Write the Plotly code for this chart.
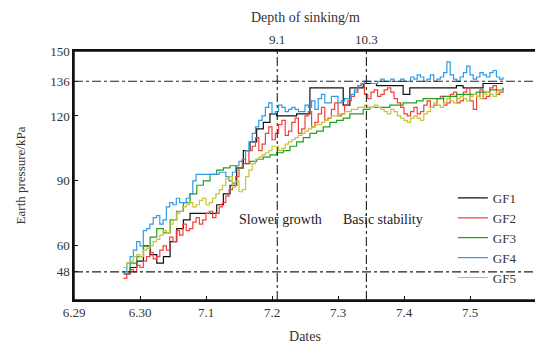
import plotly.graph_objects as go

# ---- data (days counted from 6.29; each series spans 6.29+0.75 d to 6.29+6.5 d) ----
T_START, T_END = 0.75, 6.5

gf1 = [47, 50, 53, 60, 56, 52, 55, 62, 68, 72, 75, 75, 75, 75, 79, 84, 88, 96, 104, 108,
       114, 117, 121, 120, 120, 120, 121, 121, 133, 133, 133, 133, 133, 125, 133, 133, 135, 135, 134, 134,
       134, 134, 130, 133, 133, 133, 133, 133, 133, 133, 134, 133, 133, 133, 135, 135, 135, 135]
gf2 = [45, 47, 49, 48, 51, 50, 53, 55, 57, 54, 55, 58, 60, 58, 64, 62, 67, 65, 70, 67,
       68, 71, 73, 70, 72, 75, 76, 73, 75, 78, 80, 83, 86, 89, 92, 96, 100, 98, 104, 106,
       110, 104, 107, 112, 115, 109, 112, 116, 118, 111, 113, 117, 119, 112, 114, 120, 122, 115, 117, 121,
       124, 118, 119, 123, 126, 120, 121, 125, 127, 129, 131, 134, 135, 130, 128, 131, 132, 129, 130, 132,
       133, 131, 128, 126, 124, 121, 120, 122, 124, 121, 122, 125, 127, 124, 125, 128, 129, 125, 126, 130,
       131, 126, 127, 131, 133, 127, 123, 129, 132, 128, 129, 133, 134, 130, 131, 133]
gf3 = [48, 52, 55, 60, 64, 68, 66, 72, 76, 80, 84, 88, 90, 93, 95, 96, 97, 96, 98, 99,
       100, 101, 102, 103, 104, 106, 108, 110, 112, 113, 115, 117, 118, 119, 121, 121, 123, 124, 124, 124,
       125, 125, 126, 126, 127, 128, 128, 128, 129, 129, 130, 130, 130, 131, 131, 132, 132, 133]
gf4 = [48, 52, 55, 58, 62, 60, 67, 68, 70, 73, 74, 70, 72, 78, 80, 79, 82, 80, 80, 82,
       84, 90, 93, 93, 93, 93, 93, 93, 93, 94, 94, 92, 90, 94, 97, 99, 100, 104, 108, 112,
       115, 118, 120, 124, 126, 121, 122, 125, 124, 122, 123, 124, 123, 122, 122, 125, 124, 127, 123, 128,
       130, 126, 126, 129, 129, 126, 127, 128, 128, 130, 132, 134, 135, 136, 136, 135, 135, 136, 137, 136,
       136, 137, 136, 136, 137, 136, 136, 138, 137, 139, 138, 136, 137, 139, 136, 137, 138, 140, 145, 139,
       137, 136, 138, 140, 143, 139, 137, 138, 140, 139, 138, 140, 141, 138, 137, 138]
gf5 = [50, 52, 53, 55, 56, 55, 58, 59, 60, 62, 63, 65, 67, 66, 70, 72, 75, 76, 78, 79,
       80, 78, 79, 81, 82, 79, 80, 82, 84, 86, 88, 91, 92, 87, 90, 85, 86, 92, 95, 98,
       100, 101, 102, 103, 104, 106, 106, 104, 105, 107, 108, 109, 110, 111, 112, 113, 114, 115, 116, 116,
       117, 118, 119, 120, 120, 121, 121, 122, 122, 123, 123, 124, 124, 125, 124, 124, 125, 124, 123, 122,
       121, 123, 122, 120, 119, 118, 117, 119, 120, 119, 118, 121, 122, 124, 126, 125, 124, 126, 128, 127,
       126, 128, 129, 128, 127, 129, 130, 129, 128, 130, 131, 130, 129, 131, 132, 132]

series_names = ["GF1", "GF2", "GF3", "GF4", "GF5"]
series_values = [gf1, gf2, gf3, gf4, gf5]
colors = ["#111111", "#f0413c", "#22a022", "#2e9be6", "#c8c23a"]

date_ticks = [0, 1, 2, 3, 4, 5, 6, 7]
date_labels = ["6.29", "6.30", "7.1", "7.2", "7.3", "7.4", "7.5", "7.6"]
y_ticks = [48, 60, 90, 120, 136, 150]
depth_pos = [3.08, 4.43]
depth_labels = ["9.1", "10.3"]
ref_levels = [48, 136]
stage_labels = ["Slower growth", "Basic stability"]
stage_x = [3.13, 4.68]
stage_y = 72

FONT = "Liberation Serif"
TXT = "#333"


def time_axis(n):
    step = (T_END - T_START) / (n - 1)
    return [T_START + i * step for i in range(n)]


fig = go.Figure()
for name, vals, c in zip(series_names, series_values, colors):
    fig.add_trace(go.Scatter(x=time_axis(len(vals)), y=vals, mode="lines", name=name,
                             line=dict(color=c, width=1.2, shape="hv")))

for lv in ref_levels:
    fig.add_shape(type="line", xref="paper", x0=0, x1=1, yref="y", y0=lv, y1=lv,
                  line=dict(color="#222", width=1.1, dash="dashdot"))
for p in depth_pos:
    fig.add_shape(type="line", xref="x", x0=p, x1=p, yref="paper", y0=0, y1=1,
                  line=dict(color="#222", width=1.1, dash="dashdot"))

# plot frame
fig.add_shape(type="rect", xref="paper", yref="paper", x0=0, x1=1, y0=0, y1=1,
              line=dict(color="#111", width=1.5), fillcolor="rgba(0,0,0,0)")

# top (depth) axis labels
for p, lab in zip(depth_pos, depth_labels):
    fig.add_annotation(x=p, xref="x", y=1, yref="paper", yshift=2, yanchor="bottom",
                       text=lab, showarrow=False, font=dict(family=FONT, size=13, color=TXT))
fig.add_annotation(x=0.5, xref="paper", y=1, yref="paper", yshift=24, yanchor="bottom",
                   text="Depth of sinking/m", showarrow=False,
                   font=dict(family=FONT, size=14, color=TXT))

for t, xx in zip(stage_labels, stage_x):
    fig.add_annotation(x=xx, y=stage_y, text=t, showarrow=False,
                       font=dict(family=FONT, size=14, color="#222"))

axis_common = dict(showline=True, linecolor="#111", linewidth=1.5, ticks="inside",
                   ticklen=4, tickcolor="#111", tickwidth=1, showgrid=False, zeroline=False,
                   tickfont=dict(family=FONT, size=13, color=TXT))

fig.update_layout(
    width=535, height=339,
    margin=dict(l=66, r=5, t=43, b=46),
    plot_bgcolor="white", paper_bgcolor="white",
    font=dict(family=FONT, size=13, color=TXT),
    xaxis=dict(range=[0, 7], tickvals=date_ticks, ticktext=date_labels, mirror=True,
               title=dict(text="Dates", font=dict(family=FONT, size=14, color=TXT), standoff=12),
               **axis_common),
    yaxis=dict(range=[35, 150], tickvals=y_ticks, mirror=True,
               title=dict(text="Earth pressure/kPa", font=dict(family=FONT, size=13, color=TXT),
                          standoff=22),
               **axis_common),
    legend=dict(x=0.82, y=0.47, xanchor="left", yanchor="top", bgcolor="rgba(0,0,0,0)",
                font=dict(family=FONT, size=13, color=TXT), tracegroupgap=0),
    showlegend=True,
)

fig.write_html("out.html")
